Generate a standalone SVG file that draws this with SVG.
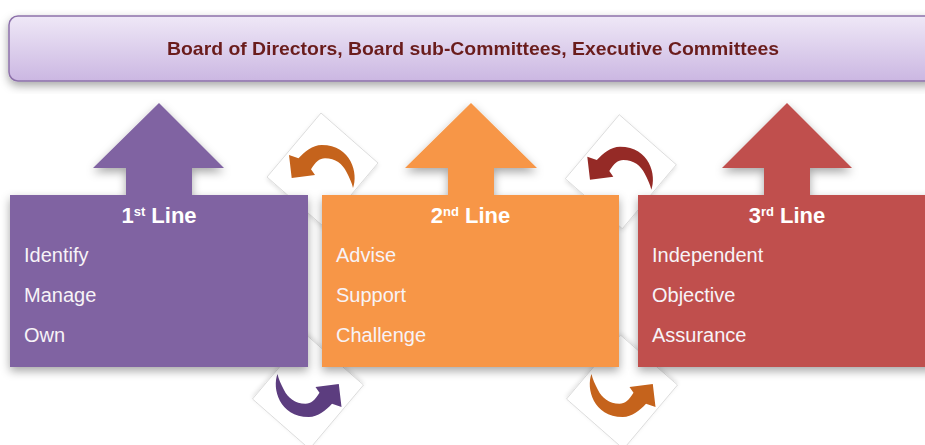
<svg xmlns="http://www.w3.org/2000/svg" xmlns:xlink="http://www.w3.org/1999/xlink" width="925" height="445" viewBox="0 0 925 445">
  <style>
    .title { font-family: "Liberation Sans", Arial, sans-serif; font-weight: bold; font-size: 22px; fill: #ffffff; text-anchor: middle; }
    .sup { font-size: 13px; }
    .item { font-family: "Liberation Sans", Arial, sans-serif; font-size: 20px; fill: #f7f3f7; }
    .banner-text { font-family: "Liberation Sans", Arial, sans-serif; font-weight: bold; font-size: 19px; fill: #6b1e1e; text-anchor: middle; }
    .dia { fill: #ffffff; stroke: #d4d4d4; stroke-width: 0.8; }
  </style>
  <defs>
    <linearGradient id="bannerGrad" x1="0" y1="0" x2="0" y2="1">
      <stop offset="0" stop-color="#efe8f7"/>
      <stop offset="1" stop-color="#cbb7e2"/>
    </linearGradient>
    <filter id="shadow" x="-10%" y="-10%" width="120%" height="130%">
      <feDropShadow dx="0" dy="4" stdDeviation="5" flood-color="#000000" flood-opacity="0.35"/>
    </filter>
    <filter id="softshadow" x="-10%" y="-10%" width="120%" height="130%">
      <feDropShadow dx="0" dy="2" stdDeviation="2" flood-color="#000000" flood-opacity="0.12"/>
    </filter>
    <g id="curl">
      <polygon class="dia" points="-1.5,-57 55.5,-7 1.5,57 -55.5,7"/>
      <path d="M30.5,18 C36,4 29,-25 -0.8,-25 C-10,-25 -18,-18 -24,-11.7 L-33.5,-15 L-30.8,8 L-7.5,5 L-11.5,-0.7 C-7,-8 -3,-11.7 2.5,-11.7 C13,-11.7 20,-6 24,2 C27,8 29.5,13 30.5,18 Z"/>
    </g>
  </defs>

  <rect width="925" height="445" fill="#ffffff"/>

  <g id="banner" filter="url(#shadow)">
    <rect x="9" y="16" width="928" height="65" rx="9" ry="9" fill="url(#bannerGrad)" stroke="#8d71aa" stroke-width="1.5"/>
    <text class="banner-text" x="473" y="55" textLength="612" lengthAdjust="spacingAndGlyphs">Board of Directors, Board sub-Committees, Executive Committees</text>
  </g>

  <g id="connectors">
    <use xlink:href="#curl" href="#curl" transform="translate(322.5,170)" fill="#c5631b" filter="url(#softshadow)"/>
    <use xlink:href="#curl" href="#curl" transform="translate(620.8,171.7)" fill="#952a26" filter="url(#softshadow)"/>
    <use xlink:href="#curl" href="#curl" transform="translate(308,392) rotate(180)" fill="#5c3c7f" filter="url(#softshadow)"/>
    <use xlink:href="#curl" href="#curl" transform="translate(622,392) rotate(180)" fill="#c5631b" filter="url(#softshadow)"/>
  </g>

  <g id="line1">
    <path d="M10,195 H126 V168 H93 L159,103 L224,168 H192 V195 H308 V367 H10 Z" fill="#8064a2" filter="url(#shadow)"/>
    <text class="title" x="159" y="223">1<tspan class="sup" dy="-7">st</tspan><tspan dy="7"> Line</tspan></text>
    <text class="item" x="24" y="262">Identify</text>
    <text class="item" x="24" y="302">Manage</text>
    <text class="item" x="24" y="342">Own</text>
  </g>

  <g id="line2">
    <path d="M322,195 H448 V168 H405 L471,103 L537,168 H494 V195 H619 V367 H322 Z" fill="#f79646" filter="url(#shadow)"/>
    <text class="title" x="470.5" y="223">2<tspan class="sup" dy="-7">nd</tspan><tspan dy="7"> Line</tspan></text>
    <text class="item" x="336" y="262">Advise</text>
    <text class="item" x="336" y="302">Support</text>
    <text class="item" x="336" y="342">Challenge</text>
  </g>

  <g id="line3">
    <path d="M638,195 H764 V168 H722 L787,103 L852,168 H810 V195 H936 V367 H638 Z" fill="#c0504d" filter="url(#shadow)"/>
    <text class="title" x="787" y="223">3<tspan class="sup" dy="-7">rd</tspan><tspan dy="7"> Line</tspan></text>
    <text class="item" x="652" y="262">Independent</text>
    <text class="item" x="652" y="302">Objective</text>
    <text class="item" x="652" y="342">Assurance</text>
  </g>
</svg>
